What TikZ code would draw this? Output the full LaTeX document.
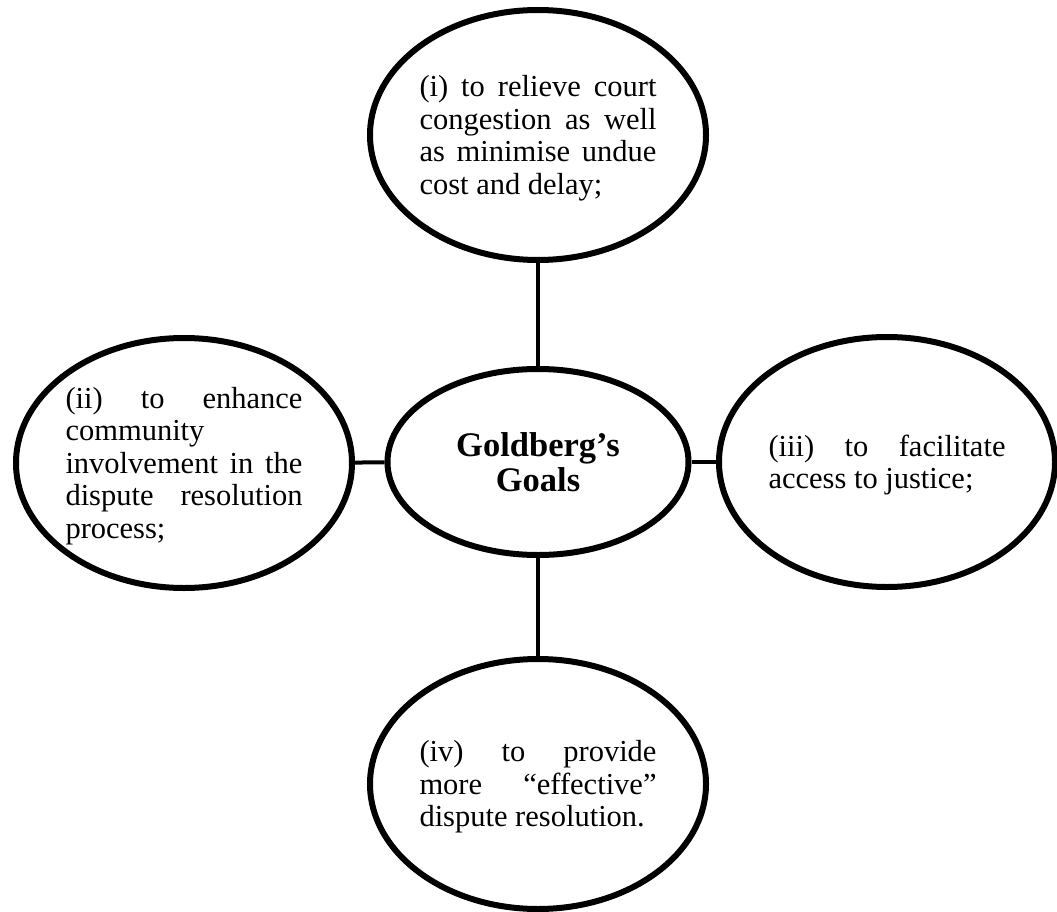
\documentclass[tikz,border=0pt]{standalone}
\usepackage{fontspec}
\setmainfont{Liberation Serif}
\usetikzlibrary{shapes.geometric}
\tolerance=10000
\hbadness=10000
\hyphenpenalty=10000
% trims the bottom of a goal's text block so the lines sit a little lower
\newcommand\goaltail{\par\vspace{-6pt}}
\begin{document}
\begin{tikzpicture}[x=1pt,y=-1pt,
  goal/.style={ellipse, draw=black, line width=6pt, fill=white, inner sep=0pt,
    minimum width=336pt, minimum height=250pt, text width=237pt, align=justify,
    font=\fontsize{30.5pt}{32.5pt}\selectfont,
    execute at end node=\goaltail},
  hub/.style={ellipse, draw=black, line width=6pt, fill=white, inner sep=0pt,
    minimum width=301pt, minimum height=186pt, align=center,
    font=\fontsize{34.5pt}{35pt}\selectfont\bfseries},
  link/.style={draw=black, line width=4pt}]
  % canvas
  \fill[white] (0,0) rectangle (1057,912);
  \useasboundingbox (0,0) rectangle (1057,912);

  % central goal
  \node[hub] (hub) at (538,462) {Goldberg’s\\Goals};

  % the four goals
  \node[goal] (g1) at (538,135) {(i) to relieve court\linebreak congestion as well\linebreak as minimise undue\linebreak cost and delay;};
  \node[goal] (g2) at (184,463) {(ii) to enhance\linebreak community\linebreak involvement in the\linebreak dispute resolution\linebreak process;};
  \node[goal] (g3) at (887,462) {(iii) to facilitate\linebreak access to justice;};
  \node[goal] (g4) at (538,784) {(iv) to provide\linebreak more “effective”\linebreak dispute resolution.};

  % connectors
  \draw[link] (hub) -- (g1);
  \draw[link] (hub) -- (g2);
  \draw[link] (hub) -- (g3);
  \draw[link] (hub) -- (g4);
\end{tikzpicture}
\end{document}
